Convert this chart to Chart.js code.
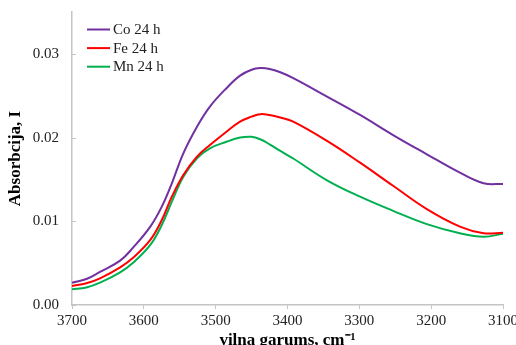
<!DOCTYPE html>
<html>
<head>
<meta charset="utf-8">
<script src="https://cdn.jsdelivr.net/npm/chart.js@4"></script>
<style>
  html, body { margin: 0; padding: 0; background: #fff; }
  #wrap { width: 516px; height: 345px; }
</style>
</head>
<body>
<div id="wrap"><canvas id="c" width="516" height="345"></canvas></div>
<script>
const wavenumbers = [3700, 3680, 3661, 3633, 3615, 3591, 3575, 3561, 3545, 3526, 3508, 3485, 3466, 3450, 3438, 3425, 3410, 3392, 3345, 3299, 3253, 3206, 3160, 3127, 3100];
const co24 = [0.00266, 0.0031, 0.00395, 0.0053, 0.00685, 0.00936, 0.01175, 0.01454, 0.01812, 0.0213, 0.0237, 0.0259, 0.0274, 0.0281, 0.0283, 0.0282, 0.0278, 0.0271, 0.0249, 0.0227, 0.0203, 0.0180, 0.0158, 0.01454, 0.01446];
const fe24 = [0.00227, 0.0026, 0.00319, 0.0045, 0.00565, 0.00777, 0.01016, 0.01294, 0.01553, 0.01772, 0.0191, 0.0207, 0.0219, 0.0225, 0.0228, 0.0227, 0.0224, 0.0219, 0.0196, 0.0170, 0.01424, 0.01145, 0.00936, 0.00857, 0.00862];
const mn24 = [0.00187, 0.0021, 0.00267, 0.0039, 0.00505, 0.00717, 0.00956, 0.01234, 0.01533, 0.01753, 0.01872, 0.0195, 0.0200, 0.0201, 0.0198, 0.0192, 0.0184, 0.0175, 0.0149, 0.01294, 0.01125, 0.00966, 0.00857, 0.00816, 0.00851];
const seriesNames = ['Co 24 h', 'Fe 24 h', 'Mn 24 h'];
const seriesColors = ['#7030A0', '#FF0000', '#00B050'];
const yTickValues = [0, 0.01, 0.02, 0.03];
const xTitle = 'viļņa garums, cm⁻¹';
const yTitle = 'Absorbcija, I';

const toPts = arr => wavenumbers.map((w, i) => ({x: w, y: arr[i]}));
const allSeries = [co24, fe24, mn24];

const serif = "'Liberation Serif', 'Times New Roman', serif";
const axisGray = '#c4c4c4';

const overlay = {
  id: 'overlay',
  afterDraw(chart) {
    const ctx = chart.ctx;
    const y = chart.scales.y;
    const area = chart.chartArea;
    ctx.save();
    ctx.strokeStyle = axisGray;
    ctx.lineWidth = 1;
    yTickValues.forEach(v => {
      const py = Math.round(y.getPixelForValue(v)) + 0.5;
      ctx.beginPath();
      ctx.moveTo(area.left, py);
      ctx.lineTo(area.left + 4, py);
      ctx.stroke();
    });
    ctx.font = '15px ' + serif;
    ctx.textBaseline = 'middle';
    ctx.textAlign = 'left';
    seriesNames.forEach((name, i) => {
      const ly = 29.5 + i * 18.6;
      ctx.strokeStyle = seriesColors[i];
      ctx.lineWidth = 2;
      ctx.beginPath();
      ctx.moveTo(87, ly);
      ctx.lineTo(110, ly);
      ctx.stroke();
      ctx.fillStyle = '#222';
      ctx.fillText(name, 113, ly + 0.5);
    });
    ctx.restore();
  }
};

new Chart(document.getElementById('c'), {
  type: 'line',
  data: {
    datasets: seriesNames.map((name, i) => ({
      label: name,
      data: toPts(allSeries[i]),
      borderColor: seriesColors[i],
      backgroundColor: seriesColors[i],
      borderWidth: 2,
      pointRadius: 0,
      tension: 0.4,
      fill: false
    }))
  },
  options: {
    responsive: false,
    animation: false,
    events: [],
    layout: { padding: { left: 0, right: 13, top: 12, bottom: 0 } },
    plugins: { legend: { display: false }, tooltip: { enabled: false } },
    scales: {
      x: {
        type: 'linear',
        min: 3100,
        max: 3700,
        reverse: true,
        border: { display: true, color: axisGray, width: 1.5 },
        grid: { display: true, drawOnChartArea: false, drawTicks: true, tickLength: 4, color: axisGray },
        ticks: {
          stepSize: 100,
          padding: 3,
          color: '#222',
          font: { family: serif, size: 15 },
          maxRotation: 0,
          autoSkip: false,
          callback: v => String(v)
        },
        title: {
          display: true,
          text: xTitle,
          color: '#000',
          font: { family: serif, size: 17, weight: 'bold', lineHeight: 1 },
          padding: { top: 0, bottom: -4 }
        },
        afterFit(s) { s.height = 40; s.paddingLeft = 0; s.paddingRight = 0; }
      },
      y: {
        min: 0,
        max: 0.035,
        border: { display: true, color: axisGray, width: 1.5 },
        grid: { display: false, drawTicks: false },
        ticks: {
          stepSize: 0.01,
          padding: 13,
          color: '#222',
          font: { family: serif, size: 15 },
          callback: v => Number(v).toFixed(2)
        },
        afterBuildTicks(s) {
          s.ticks = yTickValues.map(v => ({ value: v }));
        },
        title: {
          display: true,
          text: yTitle,
          color: '#000',
          font: { family: serif, size: 17, weight: 'bold' },
          padding: { top: 5, bottom: 0 }
        },
        afterFit(s) { s.width = 72; s.paddingTop = 0; s.paddingBottom = 0; }
      }
    }
  },
  plugins: [overlay]
});
</script>
</body>
</html>
